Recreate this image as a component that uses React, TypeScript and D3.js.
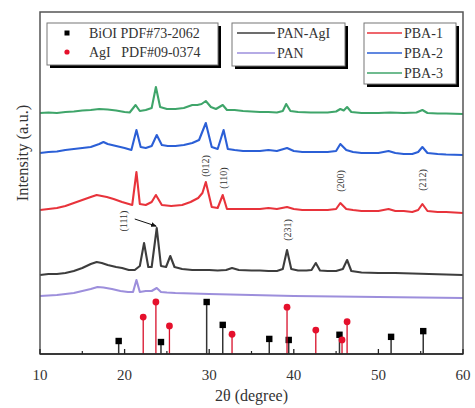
import React from "react";
import * as d3 from "d3";

// ---------- data ----------
const xTicks = [10, 20, 30, 40, 50, 60];
const xMinorTicks = [15, 25, 35, 45, 55];

// reference patterns (2θ, relative intensity)
const bioiPos = [19.3, 24.3, 29.7, 31.6, 37.1, 39.4, 45.4, 51.5, 55.3];
const bioiInt = [25, 23, 100, 56, 29, 27, 37, 33, 44];
const agiPos = [22.2, 23.7, 25.3, 32.7, 39.2, 42.6, 45.7, 46.3];
const agiInt = [71, 100, 54, 38, 90, 46, 27, 62];

// measured curves: [2θ, intensity above own baseline]
const pba3: [number, number][] = [
  [10, 0], [11, 0.5], [12, 0], [13, 1], [14, 1.5], [15, 2.5], [16, 3], [17, 4], [18, 3.5], [19, 2.5],
  [20, 1], [20.6, 0.5], [21.3, 8], [21.8, 2], [22.5, 3], [23.2, 5], [23.7, 26], [24.2, 6], [25, 4],
  [26, 4], [27, 5], [28, 8], [28.6, 8], [29.1, 9], [29.6, 12], [30.2, 6], [30.8, 4], [31.6, 8],
  [32.1, 3], [33, 3], [34, 2], [35, 1.5], [36, 1], [37, 1], [38, 0.5], [38.7, 2], [39.1, 9], [39.6, 2],
  [40.5, 1], [42, 0.5], [43, 0.5], [44, 0.5], [45, 1.5], [45.5, 4], [45.9, 2.5], [46.3, 6], [46.8, 1],
  [48, 0], [50, 0], [51.4, 0.5], [53, 0], [54.5, 0.5], [55.2, 3], [55.8, 0], [57, -0.5], [58, -0.5], [60, -1],
];
const pba2: [number, number][] = [
  [10, 0], [11, 1], [12, 1.5], [13, 3], [14, 4], [15, 5], [16, 6], [17, 9], [17.5, 11], [18, 9], [19, 7],
  [20, 5], [20.8, 3], [21.4, 23], [21.9, 6], [22.5, 5], [23.2, 7], [23.8, 18], [24.4, 8], [25.1, 7],
  [26, 7], [27, 8], [28, 10], [28.8, 13], [29.6, 30], [30.3, 6], [31, 4], [31.7, 23], [32.2, 4], [33, 3],
  [34, 2], [35, 2], [36, 2], [37, 3], [38, 2], [39.2, 5], [40, 2], [41, 1], [42, 1], [43, 1], [44, 1],
  [45, 2], [45.5, 9], [46.2, 3], [47, 1], [48, 0], [49, 0], [50, 0], [51.2, 2], [52, 0], [53, -1], [54, -1],
  [54.7, 1], [55.2, 6], [55.8, 0], [57, -1], [58, -1.5], [60, -2],
];
const pba1: [number, number][] = [
  [10, 1], [11, 2], [12, 3], [13, 5], [14, 8], [15, 11], [16, 14], [16.7, 16], [17.3, 15], [17.9, 14],
  [18.7, 12], [19.7, 9], [20.5, 7], [20.9, 6], [21.4, 39], [21.8, 7], [22.5, 6], [23.2, 9], [23.7, 16],
  [24.4, 6], [25.5, 5], [26.8, 6], [27.8, 9], [28.7, 13], [29.2, 18], [29.6, 29], [30.3, 4], [31, 3],
  [31.6, 16], [32.1, 2], [33, 2], [34, 2], [35, 2], [36, 2], [37, 3], [38, 2], [39.2, 4], [40, 2], [41, 1],
  [42, 1], [43, 1], [44, 1], [45, 2], [45.5, 8], [46.2, 2], [47, 1], [48, 0], [49, 0], [50, 0], [51.2, 2],
  [52, 0], [53, 0], [54, -1], [54.7, 1], [55.2, 7], [55.8, 0], [57, -1], [58, -1], [60, -2],
];
const panAgi: [number, number][] = [
  [10, -3], [11, -2], [12, -2], [13, -1], [14, 1], [15, 4], [16, 8], [16.7, 10], [17.3, 9], [18, 7],
  [19, 5], [19.7, 4], [20.5, 2], [21.2, 2], [21.8, 6], [22.3, 29], [22.8, 5], [23.2, 5], [23.8, 44],
  [24.3, 6], [24.9, 5], [25.4, 16], [25.9, 5], [26.8, 3], [28, 2], [29, 2], [30, 2], [31, 1.5], [32, 2],
  [32.7, 4], [33.5, 2], [35, 1.5], [36, 1.5], [37, 1], [38, 1], [38.7, 3], [39.2, 22], [39.7, 3],
  [40.5, 1.5], [41.5, 1.5], [42.1, 2], [42.6, 9], [43.1, 1.5], [44, 1], [45, 1], [45.8, 3], [46.3, 12],
  [46.8, 1], [48, -0.5], [50, -1], [52, -1], [54, -1.5], [56, -2], [58, -2.5], [60, -3],
];
const pan: [number, number][] = [
  [10, 0], [11, 0.5], [12, 1], [13, 2], [14, 3], [15, 5], [16, 7], [16.8, 9], [17.5, 8.5], [18.5, 7],
  [19.5, 5], [20.4, 4], [21, 4], [21.4, 16], [21.8, 4], [22.5, 5], [23.2, 5], [23.8, 8], [24.3, 4],
  [25, 3.5], [26, 3], [28, 2.5], [30, 2], [35, 1], [40, 0], [45, -0.5], [50, -1], [55, -1.5], [60, -2],
];

const seriesNames = ["PBA-3", "PBA-2", "PBA-1", "PAN-AgI", "PAN"];
const seriesData = [pba3, pba2, pba1, panAgi, pan];
const seriesOffsets = [241, 201, 143, 82, 58];
const seriesColors = ["#3fa56a", "#2b5fd6", "#e8333b", "#3d3d3d", "#9d8fdc"];

const planeLabels = ["(111)", "(012)", "(110)", "(231)", "(200)", "(212)"];
const planePos = [19.9, 29.6, 31.7, 39.2, 45.5, 55.2];
const planeHeights = [133, 188, 176, 124, 173, 174];

// ---------- layout ----------
const W = 475, H = 408;
const L = 40, R = 463, T = 12, B = 354;
const FONT = "'Liberation Serif', 'Times New Roman', serif";

export default function App() {
  const x = d3.scaleLinear().domain([10, 60]).range([L, R]);
  const y = d3.scaleLinear().domain([0, 342]).range([B, T]);
  const yStick = d3.scaleLinear().domain([0, 100]).range([B, B - 52]);

  const line = (off: number) =>
    d3.line<[number, number]>().x(d => x(d[0])).y(d => y(d[1] + off));

  const legendRows1 = [
    { label: "BiOI PDF#73-2062", kind: "sq" },
    { label: "AgI   PDF#09-0374", kind: "ci" },
  ];

  return (
    <svg width={W} height={H} style={{ position: "absolute", left: 0, top: 0 }} fontFamily={FONT}>
      <defs>
        <marker id="arr" viewBox="0 0 10 10" refX="8" refY="5" markerWidth="6" markerHeight="6" orient="auto">
          <path d="M0,1 L10,5 L0,9 z" fill="#111" />
        </marker>
      </defs>
      <rect x={0} y={0} width={W} height={H} fill="#fff" />

      {/* curves */}
      {seriesData.map((d, i) => (
        <path key={seriesNames[i]} d={line(seriesOffsets[i])(d) || ""} fill="none"
          stroke={seriesColors[i]} strokeWidth={2.1} strokeLinejoin="round" />
      ))}

      {/* reference sticks */}
      {bioiPos.map((p, i) => (
        <g key={"b" + i}>
          <line x1={x(p)} x2={x(p)} y1={yStick(0)} y2={yStick(bioiInt[i])} stroke="#333" strokeWidth={1.5} />
          <rect x={x(p) - 3.2} y={yStick(bioiInt[i]) - 3.2} width={6.4} height={6.4} fill="#000" />
        </g>
      ))}
      {agiPos.map((p, i) => (
        <g key={"a" + i}>
          <line x1={x(p)} x2={x(p)} y1={yStick(0)} y2={yStick(agiInt[i])} stroke="#d8102a" strokeWidth={1.3} />
          <circle cx={x(p)} cy={yStick(agiInt[i])} r={3.4} fill="#e5102c" />
        </g>
      ))}

      {/* plane annotations */}
      {planeLabels.map((t, i) => {
        const cx = x(planePos[i]);
        const cy = y(planeHeights[i]);
        return (
          <text key={t} x={cx} y={cy} fontSize={10} fill="#333" textAnchor="middle" dominantBaseline="central"
            transform={`rotate(-90 ${cx} ${cy})`}>{t}</text>
        );
      })}
      <line x1={x(21.2)} y1={y(135)} x2={x(23.7)} y2={y(128)} stroke="#111" strokeWidth={1} markerEnd="url(#arr)" />

      {/* frame */}
      <rect x={L} y={T} width={R - L} height={B - T} fill="none" stroke="#555" strokeWidth={1.5} />
      <line x1={L} x2={R} y1={B} y2={B} stroke="#222" strokeWidth={1.5} />
      {xTicks.map(t => (
        <g key={t}>
          <line x1={x(t)} x2={x(t)} y1={B} y2={B - 5} stroke="#222" strokeWidth={1.3} />
          <text x={x(t)} y={380} fontSize={15} textAnchor="middle" fill="#333">{t}</text>
        </g>
      ))}
      {xMinorTicks.map(t => (
        <line key={t} x1={x(t)} x2={x(t)} y1={B} y2={B - 3} stroke="#222" strokeWidth={1.2} />
      ))}
      <text x={(L + R) / 2} y={401} fontSize={16} textAnchor="middle" fill="#333">2θ (degree)</text>
      <text x={22} y={153} fontSize={16.5} textAnchor="middle" dominantBaseline="central" fill="#333"
        transform="rotate(-90 22 153)">Intensity (a.u.)</text>

      {/* legend 1 */}
      <rect x={50} y={26} width={171} height={42} fill="#000" />
      <rect x={47} y={23} width={171} height={42} fill="#fff" stroke="#777" strokeWidth={1} />
      {legendRows1.map((r, i) => (
        <g key={r.label}>
          {r.kind === "sq"
            ? <rect x={64.5} y={30.5 + i * 19} width={5} height={5} fill="#000" />
            : <circle cx={67} cy={33 + i * 19} r={2.6} fill="#e5102c" />}
          <text x={89} y={33 + i * 19} fontSize={14} dominantBaseline="central" fill="#333"
            style={{ whiteSpace: "pre" }}>{r.label}</text>
        </g>
      ))}

      {/* legend 2 */}
      <rect x={235} y={26} width={113} height={43} fill="#000" />
      <rect x={232} y={23} width={113} height={43} fill="#fff" stroke="#777" strokeWidth={1} />
      {[3, 4].map((si, i) => (
        <g key={seriesNames[si]}>
          <line x1={237} x2={275} y1={33 + i * 20} y2={33 + i * 20} stroke={seriesColors[si]} strokeWidth={1.3} />
          <text x={277} y={33 + i * 20} fontSize={14} dominantBaseline="central" fill="#333">{seriesNames[si]}</text>
        </g>
      ))}

      {/* legend 3 */}
      <rect x={367} y={26} width={92} height={61} fill="#000" />
      <rect x={364} y={23} width={92} height={61} fill="#fff" stroke="#777" strokeWidth={1} />
      {[2, 1, 0].map((si, i) => (
        <g key={seriesNames[si]}>
          <line x1={367} x2={402} y1={33 + i * 20} y2={33 + i * 20} stroke={seriesColors[si]} strokeWidth={1.3} />
          <text x={404} y={33 + i * 20} fontSize={14} dominantBaseline="central" fill="#333">{seriesNames[si]}</text>
        </g>
      ))}
    </svg>
  );
}
